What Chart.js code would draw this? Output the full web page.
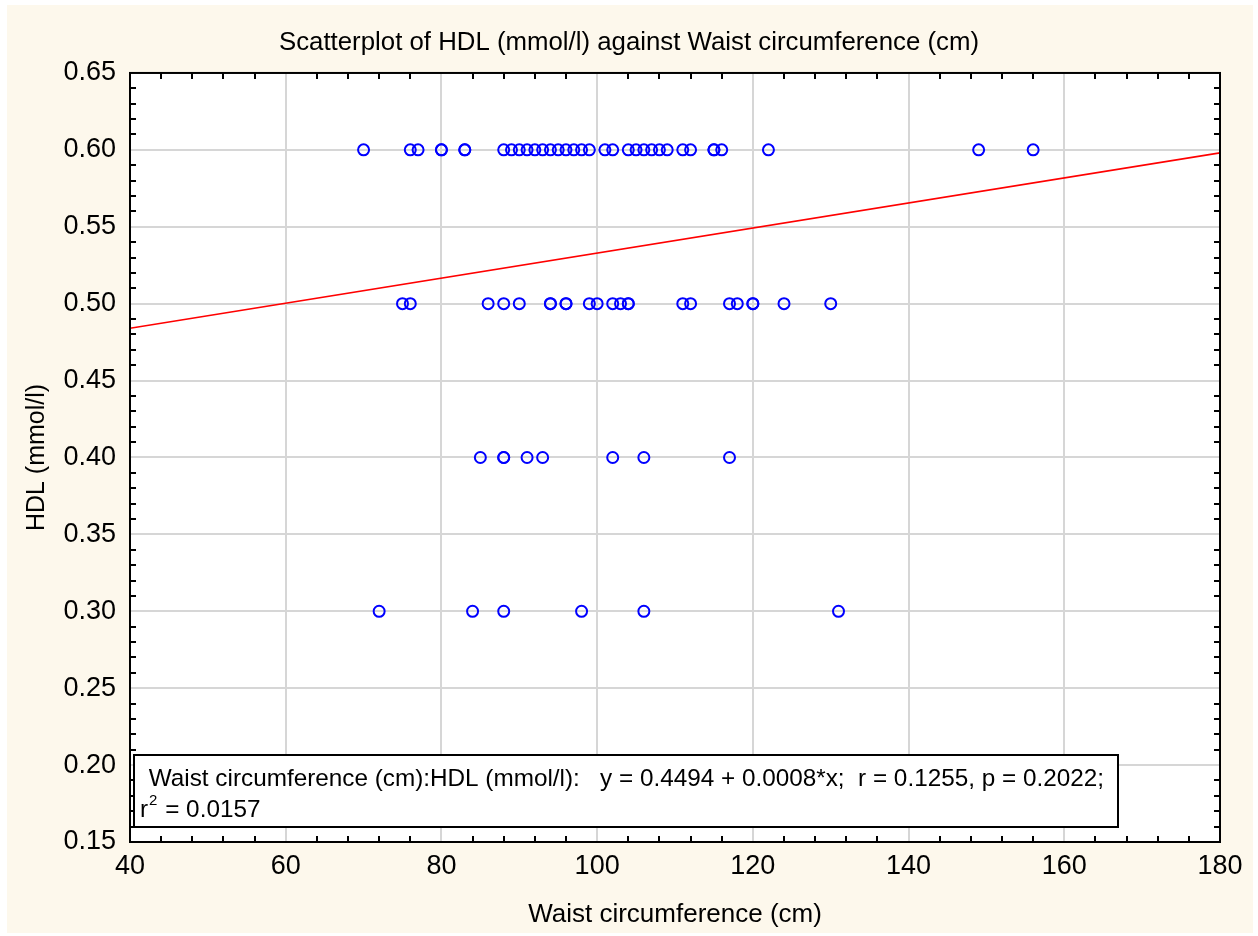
<!DOCTYPE html>
<html>
<head>
<meta charset="utf-8">
<script src="https://cdn.jsdelivr.net/npm/chart.js@4/dist/chart.umd.min.js"></script>
<style>
  body { margin: 0; background: #ffffff; }
</style>
</head>
<body>
<canvas id="scatter" width="1258" height="936"></canvas>
<script>
// waist circumference (cm) of each subject, grouped by HDL level
var hdlLevels = [0.60, 0.50, 0.40, 0.30]
var waistAt060 = [70, 76, 77, 80, 80, 83, 83, 88, 89, 90, 91, 92, 93, 94, 95, 96, 97, 98, 99, 101, 102, 104, 105, 106, 107, 108, 109, 111, 112, 115, 115, 116, 122, 149, 156]
var waistAt050 = [75, 76, 86, 88, 90, 94, 94, 96, 96, 99, 100, 102, 103, 104, 104, 111, 112, 117, 118, 120, 120, 124, 130]
var waistAt040 = [85, 88, 88, 91, 93, 102, 106, 117]
var waistAt030 = [72, 84, 88, 98, 106, 131]

// fitted regression line, read at the two ends of the x range
var fitX = [40, 180]
var fitY = [0.484, 0.598]

var statsLine1 = " Waist circumference (cm):HDL (mmol/l):   y = 0.4494 + 0.0008*x;  r = 0.1255, p = 0.2022;"
var statsLine2 = ["r", "2", " = 0.0157"]

var points = []
var groups = [waistAt060, waistAt050, waistAt040, waistAt030]
groups.forEach(function (list, i) {
  list.forEach(function (w) {
    points.push({ x: w, y: hdlLevels[i] })
  })
})

var fitPoints = fitX.map(function (x, i) { return { x: x, y: fitY[i] } })

var font = "'Liberation Sans', Arial, sans-serif"

// cream page, frame, inner minor ticks and the stats box
var framePlugin = {
  id: 'frame',
  beforeDraw: function (chart) {
    var ctx = chart.ctx
    ctx.save()
    ctx.fillStyle = '#ffffff'
    ctx.fillRect(0, 0, chart.width, chart.height)
    ctx.fillStyle = '#fdf8ec'
    ctx.fillRect(7, 5, chart.width - 12, chart.height - 8)
    var a = chart.chartArea
    ctx.fillStyle = '#ffffff'
    ctx.fillRect(a.left, a.top, a.right - a.left, a.bottom - a.top)
    ctx.restore()
  },
  afterDraw: function (chart) {
    var ctx = chart.ctx
    var a = chart.chartArea
    var xs = chart.scales.x
    var ys = chart.scales.y
    ctx.save()
    ctx.strokeStyle = '#000000'
    ctx.lineWidth = 2
    ctx.beginPath()
    // minor ticks every 4 cm
    for (var v = 44; v < 180; v += 4) {
      if (v % 20 === 0) continue
      var px = Math.round(xs.getPixelForValue(v))
      ctx.moveTo(px, a.bottom); ctx.lineTo(px, a.bottom - 6)
      ctx.moveTo(px, a.top); ctx.lineTo(px, a.top + 6)
    }
    // minor ticks every 0.01
    for (var k = 16; k < 65; k++) {
      if (k % 5 === 0) continue
      var py = Math.round(ys.getPixelForValue(k / 100))
      ctx.moveTo(a.left, py); ctx.lineTo(a.left + 6, py)
      ctx.moveTo(a.right, py); ctx.lineTo(a.right - 6, py)
    }
    ctx.stroke()
    ctx.strokeRect(a.left, a.top, a.right - a.left, a.bottom - a.top)

    // stats box
    var bx = a.left + 4, by = a.bottom - 87
    ctx.fillStyle = '#ffffff'
    ctx.fillRect(bx, by, 984, 72)
    ctx.strokeRect(bx, by, 984, 72)
    ctx.fillStyle = '#000000'
    ctx.textBaseline = 'alphabetic'
    ctx.textAlign = 'left'
    ctx.font = '24.3px ' + font
    ctx.fillText(statsLine1, bx + 8, by + 31)
    var tx = bx + 6
    ctx.fillText(statsLine2[0], tx, by + 62)
    tx += ctx.measureText(statsLine2[0]).width
    ctx.font = '15px ' + font
    ctx.fillText(statsLine2[1], tx + 1, by + 50)
    tx += ctx.measureText(statsLine2[1]).width + 2
    ctx.font = '24.3px ' + font
    ctx.fillText(statsLine2[2], tx, by + 62)
    ctx.restore()
  }
}

var ctx = document.getElementById('scatter').getContext('2d')
var chart = new Chart(ctx, {
  type: 'scatter',
  data: {
    datasets: [
      {
        label: 'Fit',
        type: 'line',
        data: fitPoints,
        borderColor: '#ff0000',
        borderWidth: 1.7,
        pointRadius: 0,
        fill: false,
        order: 2
      },
      {
        label: 'HDL',
        data: points,
        pointRadius: 5.5,
        pointBorderWidth: 2,
        borderColor: '#0000ff',
        backgroundColor: 'rgba(0,0,0,0)',
        order: 1
      }
    ]
  },
  options: {
    responsive: false,
    animation: false,
    layout: { padding: 0 },
    plugins: {
      legend: { display: false },
      tooltip: { enabled: false },
      title: {
        display: true,
        text: 'Scatterplot of HDL (mmol/l) against Waist circumference (cm)',
        color: '#000000',
        font: { family: font, size: 25.8, weight: 'normal' },
        padding: { top: 27, bottom: 15 }
      }
    },
    scales: {
      x: {
        type: 'linear',
        min: 40,
        max: 180,
        ticks: {
          stepSize: 20,
          color: '#000000',
          padding: 8,
          font: { family: font, size: 27 }
        },
        grid: { color: '#d6d6d6', lineWidth: 2, drawTicks: false },
        border: { display: false },
        title: {
          display: true,
          text: 'Waist circumference (cm)',
          color: '#000000',
          font: { family: font, size: 26 },
          padding: { top: 0, bottom: 6 }
        },
        afterFit: function (scale) { scale.height = 94 }
      },
      y: {
        type: 'linear',
        min: 0.15,
        max: 0.65,
        ticks: {
          stepSize: 0.05,
          color: '#000000',
          padding: 14,
          font: { family: font, size: 27 },
          callback: function (v) { return v.toFixed(2) }
        },
        grid: { color: '#d6d6d6', lineWidth: 2, drawTicks: false },
        border: { display: false },
        title: {
          display: true,
          text: 'HDL (mmol/l)',
          color: '#000000',
          font: { family: font, size: 25 },
          padding: { top: 22, bottom: 0 }
        },
        afterFit: function (scale) { scale.width = 130 }
      },
      yRight: {
        type: 'linear',
        position: 'right',
        min: 0.15,
        max: 0.65,
        ticks: { display: false },
        grid: { display: false, drawTicks: false },
        border: { display: false },
        afterFit: function (scale) { scale.width = 38 }
      }
    }
  },
  plugins: [framePlugin]
})
</script>
</body>
</html>
